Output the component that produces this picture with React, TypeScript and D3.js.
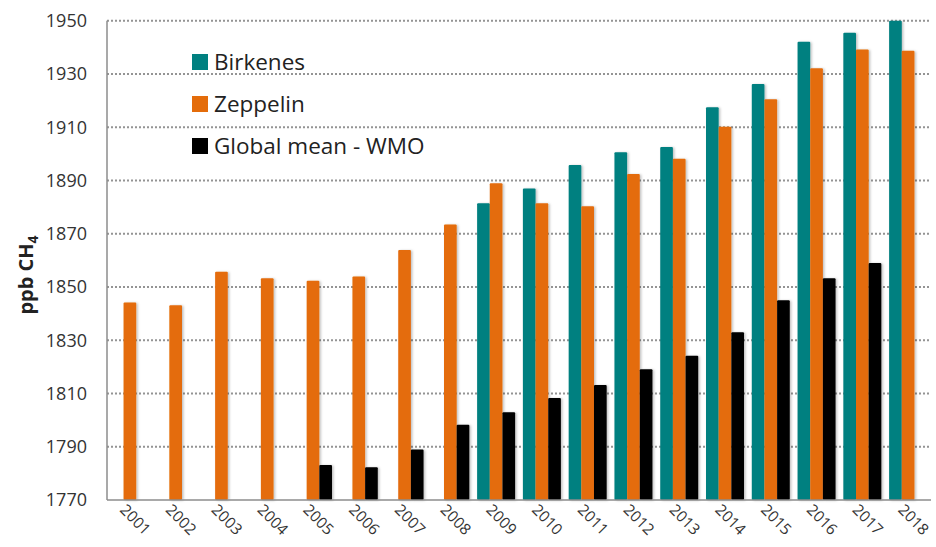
import React, { useRef, useEffect } from "react"
import * as d3 from "d3"

// methane yearly means, ppb
const years = ["2001", "2002", "2003", "2004", "2005", "2006", "2007", "2008", "2009",
  "2010", "2011", "2012", "2013", "2014", "2015", "2016", "2017", "2018"]
const birkenes: (number | null)[] = [null, null, null, null, null, null, null, null,
  1881.4, 1887, 1895.8, 1900.6, 1902.6, 1917.5, 1926.2, 1942.1, 1945.5, 1950]
const zeppelin: (number | null)[] = [1844.2, 1843.1, 1855.7, 1853.3, 1852.3, 1853.9, 1863.9, 1873.5,
  1889, 1881.4, 1880.3, 1892.4, 1898.2, 1910.2, 1920.5, 1932.1, 1939.2, 1938.7]
const wmo: (number | null)[] = [null, null, null, null, 1783.1, 1782.3, 1789, 1798.3,
  1803, 1808.3, 1813.2, 1819.1, 1824.2, 1833, 1845, 1853.3, 1859, null]
const seriesNames = ["Birkenes", "Zeppelin", "Global mean - WMO"]
const yTicks = [1770, 1790, 1810, 1830, 1850, 1870, 1890, 1910, 1930, 1950]

const colors = ["#008080", "#e46c0a", "#000000"]

const W = 936
const H = 547
const margin = { left: 107, right: 5, top: 20.7, bottom: 47 }

const App = () => {
  const ref = useRef<SVGSVGElement>(null)

  useEffect(() => {
    const svg = d3.select(ref.current)
    svg.selectAll("*").remove()

    const x0 = d3.scaleBand<string>()
      .domain(years)
      .range([margin.left, W - margin.right])
      .paddingInner(0.17)
      .paddingOuter(0.085)
    const x1 = d3.scaleBand<string>()
      .domain(seriesNames)
      .range([0, x0.bandwidth()])
    const y = d3.scaleLinear()
      .domain([1770, 1950])
      .range([H - margin.bottom, margin.top])

    // soft shadow under bars
    const defs = svg.append("defs")
    defs.append("filter")
      .attr("id", "shadow")
      .attr("x", "-30%").attr("y", "-5%").attr("width", "170%").attr("height", "110%")
      .append("feDropShadow")
      .attr("dx", 1.5).attr("dy", 0.5)
      .attr("stdDeviation", 1.3)
      .attr("flood-color", "#000")
      .attr("flood-opacity", 0.25)

    // dotted gridlines
    svg.append("g")
      .selectAll("line")
      .data(yTicks.slice(1))
      .enter()
      .append("line")
      .attr("x1", margin.left)
      .attr("x2", W - margin.right)
      .attr("y1", d => y(d))
      .attr("y2", d => y(d))
      .attr("stroke", "#949494")
      .attr("stroke-width", 2)
      .attr("stroke-dasharray", "2 2")

    const all = [birkenes, zeppelin, wmo]
    const groups = svg.append("g")
      .selectAll("g")
      .data(years)
      .enter()
      .append("g")
      .attr("transform", d => "translate(" + x0(d) + ",0)")

    groups.selectAll("rect")
      .data((d, i) => seriesNames.map((s, k) => ({ s, k, v: all[k][i] })).filter(e => e.v != null))
      .enter()
      .append("rect")
      .attr("x", d => x1(d.s) as number)
      .attr("width", x1.bandwidth())
      .attr("y", d => y(d.v as number))
      .attr("height", d => y(1770) - y(d.v as number))
      .attr("rx", 1)
      .attr("fill", d => colors[d.k])
      .attr("filter", "url(#shadow)")

    // axis lines
    svg.append("line")
      .attr("x1", margin.left).attr("x2", margin.left)
      .attr("y1", margin.top).attr("y2", y(1770))
      .attr("stroke", "#8c8c8c").attr("stroke-width", 1.5)
    svg.append("line")
      .attr("x1", margin.left).attr("x2", W - margin.right)
      .attr("y1", y(1770)).attr("y2", y(1770))
      .attr("stroke", "#8c8c8c").attr("stroke-width", 1.5)

    // y tick labels
    svg.append("g")
      .selectAll("text")
      .data(yTicks)
      .enter()
      .append("text")
      .attr("x", 87)
      .attr("y", d => y(d))
      .attr("dy", "0.35em")
      .attr("text-anchor", "end")
      .attr("font-family", "Open Sans")
      .attr("font-size", 18)
      .attr("fill", "#333")
      .text(d => d)

    // x tick labels, rotated
    svg.append("g")
      .selectAll("text")
      .data(years)
      .enter()
      .append("text")
      .attr("transform", d => "translate(" + ((x0(d) as number) + x0.bandwidth() / 2 - 7) + "," + 507 + ") rotate(45)")
      .attr("text-anchor", "start")
      .attr("dy", "0.35em")
      .attr("font-family", "Open Sans")
      .attr("font-size", 15.5)
      .attr("fill", "#333")
      .text(d => d)

    // y axis title
    const title = svg.append("text")
      .attr("transform", "translate(33,275) rotate(-90)")
      .attr("text-anchor", "middle")
      .attr("font-family", "Open Sans")
      .attr("font-weight", "bold")
      .attr("font-size", 20)
      .attr("fill", "#222")
    title.append("tspan").text("ppb CH")
    title.append("tspan").attr("font-size", 14).attr("dy", 5).text("4")

    // legend
    const legend = svg.append("g")
      .selectAll("g")
      .data(seriesNames)
      .enter()
      .append("g")
      .attr("transform", (d, i) => "translate(192," + (54 + i * 42) + ")")
    legend.append("rect")
      .attr("width", 16)
      .attr("height", 16)
      .attr("fill", (d, i) => colors[i])
    legend.append("text")
      .attr("x", 22)
      .attr("y", 15.5)
      .attr("font-family", "Open Sans")
      .attr("font-size", 22.5)
      .attr("fill", "#222")
      .text(d => d)
  }, [])

  return (
    <svg ref={ref} width={W} height={H}
      style={{ position: "absolute", left: 0, top: 0, background: "#fff" }}>
    </svg>
  )
}

export default App
